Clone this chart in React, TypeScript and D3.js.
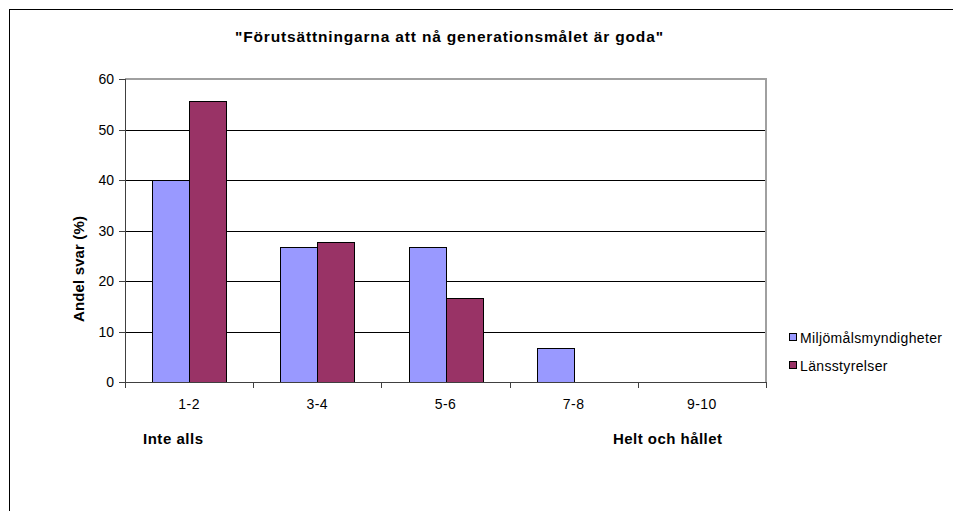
import React from "react";
import * as d3 from "d3";

const categories = ["1-2", "3-4", "5-6", "7-8", "9-10"];
const seriesNames = ["Miljömålsmyndigheter", "Länsstyrelser"];
const miljo = [40, 26.7, 26.7, 6.7, 0];
const lans = [55.6, 27.8, 16.7, 0, 0];
const yTicks = [0, 10, 20, 30, 40, 50, 60];
const colors = ["#9999FF", "#993366"];
const title = "\"Förutsättningarna att nå generationsmålet är goda\"";
const yLabel = "Andel svar (%)";
const leftNote = "Inte alls";
const rightNote = "Helt och hållet";

const W = 953;
const H = 511;
const plot = { left: 125, right: 766, top: 79, bottom: 382 };
const FONT = "'Liberation Sans', Arial, sans-serif";

export default function App() {
  const x = d3.scaleBand<string>().domain(categories).range([plot.left, plot.right]).paddingInner(0).paddingOuter(0);
  const inner = d3.scaleBand<number>().domain([0, 1]).range([0, 74]);
  const y = d3.scaleLinear().domain([0, 60]).range([plot.bottom, plot.top]);
  const series = [miljo, lans];
  const groupOffset = (x.bandwidth() - 74) / 2;

  return (
    <div style={{ position: "fixed", left: 0, top: 0, width: W, height: H, overflow: "hidden", background: "#fff" }}>
      <svg width={W} height={H} style={{ display: "block" }} fontFamily={FONT}>
        <rect x={9.5} y={9.5} width={1200} height={800} fill="#fff" stroke="#000" strokeWidth={1} />
        <text x={449} y={42} textAnchor="middle" fontSize={15.5} fontWeight="bold" textLength={428} lengthAdjust="spacing">{title}</text>

        {yTicks.filter((t) => t > 0 && t < 60).map((t) => (
          <line key={t} x1={plot.left} x2={plot.right} y1={Math.round(y(t)) + 0.5} y2={Math.round(y(t)) + 0.5} stroke="#000" strokeWidth={1} />
        ))}
        <line x1={plot.left} x2={plot.right + 1} y1={plot.top} y2={plot.top} stroke="#a0a0a0" strokeWidth={2} />
        <line x1={plot.right} x2={plot.right} y1={plot.top} y2={plot.bottom} stroke="#a0a0a0" strokeWidth={2} />

        {series.map((vals, si) =>
          vals.map((v, ci) => {
            if (v <= 0) return null;
            const bx = (x(categories[ci]) as number) + groupOffset + (inner(si) as number);
            return (
              <rect key={`${si}-${ci}`} x={Math.round(bx) + 0.5} y={Math.round(y(v)) + 0.5} width={Math.round(inner.bandwidth())} height={Math.round(y(0)) - Math.round(y(v))} fill={colors[si]} stroke="#000" strokeWidth={1} />
            );
          })
        )}

        <line x1={plot.left + 0.5} x2={plot.left + 0.5} y1={plot.top} y2={plot.bottom + 1} stroke="#404040" strokeWidth={1} />
        <line x1={plot.left} x2={plot.right} y1={plot.bottom + 0.5} y2={plot.bottom + 0.5} stroke="#404040" strokeWidth={1} />
        {yTicks.map((t) => (
          <g key={t}>
            <line x1={plot.left - 6} x2={plot.left} y1={Math.round(y(t)) + 0.5} y2={Math.round(y(t)) + 0.5} stroke="#404040" strokeWidth={1} />
            <text x={114} y={y(t) + 5} textAnchor="end" fontSize={14}>{t}</text>
          </g>
        ))}
        {categories.map((c, i) => (
          <line key={"t" + i} x1={Math.round(x(c) as number) + 0.5} x2={Math.round(x(c) as number) + 0.5} y1={plot.bottom} y2={plot.bottom + 6} stroke="#404040" strokeWidth={1} />
        ))}
        <line x1={plot.right + 0.5} x2={plot.right + 0.5} y1={plot.bottom} y2={plot.bottom + 6} stroke="#404040" strokeWidth={1} />
        {categories.map((c) => (
          <text key={c} x={(x(c) as number) + x.bandwidth() / 2} y={409} textAnchor="middle" fontSize={14} letterSpacing={0.5}>{c}</text>
        ))}

        <text x={143} y={444} fontSize={15} fontWeight="bold" textLength={60} lengthAdjust="spacing">{leftNote}</text>
        <text x={613} y={444} fontSize={15} fontWeight="bold" textLength={109} lengthAdjust="spacing">{rightNote}</text>

        <text transform={`translate(84,${269}) rotate(-90)`} textAnchor="middle" fontSize={15} fontWeight="bold" textLength={106} lengthAdjust="spacing">{yLabel}</text>

        {seriesNames.map((n, i) => (
          <g key={n}>
            <rect x={789.5} y={333.5 + i * 28} width={7} height={7} fill={colors[i]} stroke="#000" strokeWidth={1} />
            <text x={800} y={343 + i * 28} fontSize={14} letterSpacing={0.35}>{n}</text>
          </g>
        ))}
      </svg>
    </div>
  );
}
